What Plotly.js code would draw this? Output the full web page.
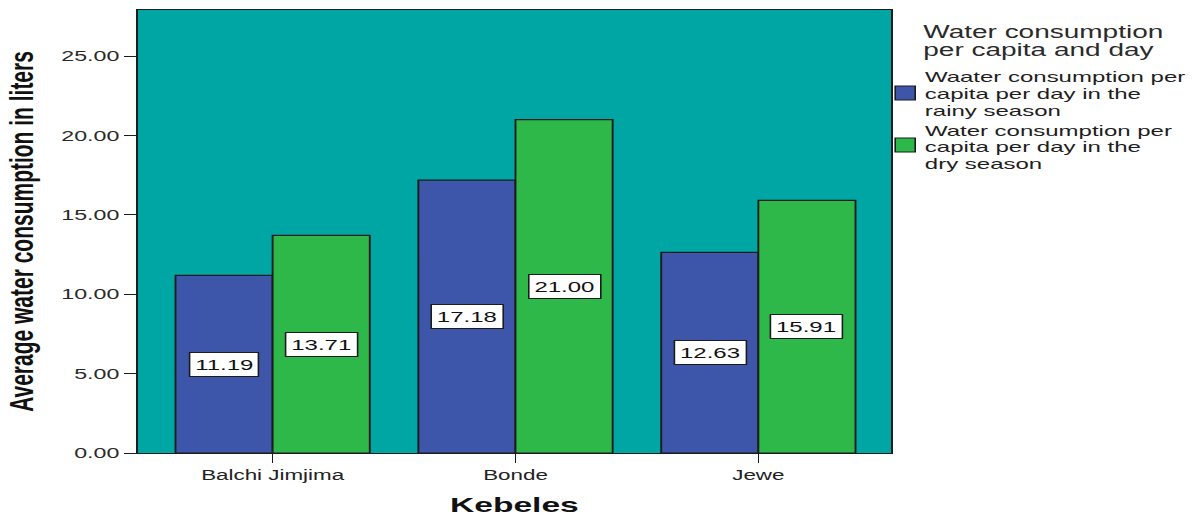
<!DOCTYPE html>
<html>
<head>
<meta charset="utf-8">
<script src="https://cdn.plot.ly/plotly-3.0.1.min.js"></script>
<style>
  html, body { margin: 0; padding: 0; background: #ffffff; overflow: hidden; }
  #wrap { width: 1195px; height: 516px; overflow: hidden; }
  /* chart is laid out narrow and widened horizontally */
  #chart { width: 747px; height: 516px; transform: scaleX(1.6); transform-origin: 0 0; }
</style>
</head>
<body>
<div id="wrap"><div id="chart"></div></div>
<script>
// Kebeles and mean daily water consumption per capita (liters)
const kebeles = ['Balchi Jimjima', 'Bonde', 'Jewe'];
const rainySeason = [11.19, 17.18, 12.63];
const drySeason = [13.71, 21.00, 15.91];

const legendTitleLines = ['Water consumption', 'per capita and day'];
const rainyLegendLines = ['Waater consumption per', 'capita per day in the', 'rainy season'];
const dryLegendLines = ['Water consumption per', 'capita per day in the', 'dry season'];

const yTickValues = [0, 5, 10, 15, 20, 25];

const seriesValues = [rainySeason, drySeason];
const seriesLegend = [rainyLegendLines, dryLegendLines];
const seriesColors = ['#3d56a9', '#2fb84a'];

const FONT = 'Liberation Sans, Arial, Helvetica, sans-serif';
const BARGAP = 0.2;
const margin = { l: 86, r: 190, t: 10, b: 63 };
const W = 747, H = 516;
const plotW = W - margin.l - margin.r;
const plotH = H - margin.t - margin.b;

// pixel position -> paper coordinates (for the side legend)
const px = x => (x - margin.l) / plotW;
const py = y => (H - margin.b - y) / plotH;

const traces = seriesValues.map((vals, s) => ({
  type: 'bar',
  x: kebeles,
  y: vals,
  name: seriesLegend[s].join(' '),
  marker: { color: seriesColors[s], line: { color: '#1c1c1c', width: 1.2 } },
  hoverinfo: 'x+y+name'
}));

const annotations = [];
const barW = (1 - BARGAP) / seriesValues.length;

// value boxes, centred halfway up each bar
seriesValues.forEach((vals, s) => {
  const off = (s - (seriesValues.length - 1) / 2) * barW;
  vals.forEach((v, i) => {
    annotations.push({
      xref: 'x', yref: 'y', x: i + off, y: v / 2,
      text: v.toFixed(2), showarrow: false,
      bgcolor: '#ffffff', bordercolor: '#1c1c1c', borderwidth: 1, borderpad: 3,
      font: { family: FONT, size: 15, color: '#111111' }
    });
  });
});

// legend title
const titleY = [32, 50];
legendTitleLines.forEach((t, k) => {
  annotations.push({
    xref: 'paper', yref: 'paper', x: px(575), y: py(titleY[k]),
    xanchor: 'left', yanchor: 'middle', text: t, showarrow: false,
    font: { family: FONT, size: 17.5, color: '#2a2a2a' }
  });
});

// legend entries: swatch + three text lines each
const itemTop = [77, 130];
const swatchTop = [86, 138];
const shapes = [];
seriesLegend.forEach((lines, s) => {
  lines.forEach((t, k) => {
    annotations.push({
      xref: 'paper', yref: 'paper', x: px(576), y: py(itemTop[s] + 16.7 * k),
      xanchor: 'left', yanchor: 'middle', text: t, showarrow: false,
      font: { family: FONT, size: 15, color: '#1e1e1e' }
    });
  });
  shapes.push({
    type: 'rect', xref: 'paper', yref: 'paper',
    x0: px(559.5), x1: px(572), y0: py(swatchTop[s]), y1: py(swatchTop[s] + 14),
    fillcolor: seriesColors[s], line: { color: '#1c1c1c', width: 1 }
  });
});

const layout = {
  width: W, height: H,
  margin: margin,
  paper_bgcolor: '#ffffff',
  plot_bgcolor: '#00a6a4',
  barmode: 'group',
  bargap: BARGAP,
  bargroupgap: 0,
  showlegend: false,
  font: { family: FONT, color: '#222222' },
  xaxis: {
    type: 'category',
    range: [-0.556, 2.547],
    showgrid: false, zeroline: false,
    showline: true, mirror: true, linecolor: '#1c1c1c', linewidth: 1,
    ticks: 'outside', ticklen: 9, tickwidth: 1, tickcolor: '#1c1c1c',
    tickfont: { family: FONT, size: 14, color: '#222222' },
    title: { text: 'Kebeles', standoff: 16, font: { family: FONT, size: 21, color: '#111111', weight: 'bold' } }
  },
  yaxis: {
    range: [0, 27.9],
    tickvals: yTickValues,
    tickformat: '.2f',
    showgrid: false, zeroline: false,
    showline: true, mirror: true, linecolor: '#1c1c1c', linewidth: 1,
    ticks: 'outside', ticklen: 7.5, tickwidth: 1, tickcolor: '#1c1c1c',
    tickfont: { family: FONT, size: 14.5, color: '#2a2a2a' },
    title: { text: 'Average water consumption in liters', standoff: 11, font: { family: FONT, size: 21, color: '#111111', weight: 'bold' } }
  },
  annotations: annotations,
  shapes: shapes
};

Plotly.newPlot('chart', traces, layout, { displayModeBar: false, staticPlot: true });
</script>
</body>
</html>
